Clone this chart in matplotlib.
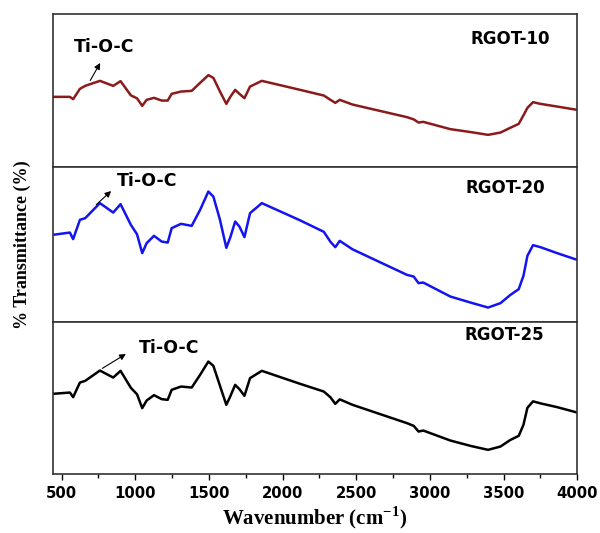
import matplotlib.pyplot as plt
from matplotlib.ticker import MultipleLocator
import numpy as np

plt.rcParams['mathtext.fontset'] = 'custom'
plt.rcParams['mathtext.rm'] = 'Liberation Serif'
plt.rcParams['mathtext.bf'] = 'Liberation Serif:bold'

# wavenumber grid (cm^-1) shared by the three spectra
wavenumber = [440, 556, 578, 624, 660, 760, 850, 900, 970, 1012, 1047, 1077, 1127,
              1179, 1220, 1247, 1310, 1383, 1440, 1496, 1530, 1575, 1618, 1645, 1678,
              1707, 1741, 1779, 1859, 2119, 2280, 2325, 2358, 2388, 2475, 2844, 2890,
              2923, 2955, 3139, 3280, 3395, 3479, 3545, 3603, 3635, 3662, 3700, 3750,
              3864, 4000]

# transmittance, arbitrary units (offset per panel)
rgot10 = [70, 70, 67.7, 78, 81, 86, 81, 85.7, 71.5, 68.5, 61, 67, 69, 66.3, 66.3, 73,
          75.3, 76, 84, 91.7, 89, 75.3, 63, 70, 77, 73, 68.7, 80.3, 86, 77, 71.3, 67,
          64, 67, 62.3, 49.7, 47.5, 44.3, 45, 37.7, 34.7, 32, 34.3, 39, 43, 51.5, 59,
          64.7, 63, 60.3, 57]
rgot20 = [87, 89.3, 82.7, 102, 103.7, 118.7, 109.3, 117.7, 97, 87.5, 68.7, 78.7, 86,
          80.3, 79.3, 93.7, 98, 96, 112, 130.3, 125.3, 102, 74, 84.5, 100.3, 95.3, 84.7,
          108.7, 118.7, 101.5, 90, 80, 74.7, 81, 72.5, 47, 45.3, 38.7, 39.3, 25.3, 19.1,
          14.3, 18.7, 26.8, 32.7, 46, 66, 76.7, 74.7, 68.7, 62]
rgot25 = [80, 81.3, 76.7, 91.3, 93, 103.3, 96.3, 103, 86, 79.5, 65.7, 73.3, 78.7, 74.7,
          74, 84, 87.3, 86.3, 99, 112.3, 108, 88, 69, 77.5, 89, 84.7, 78, 95.7, 103, 90,
          82.3, 76.5, 70, 74.5, 69, 50.7, 48, 42.3, 43.3, 33.3, 27.8, 24, 27.3, 33.8, 38,
          49, 66, 72.5, 70.5, 66.7, 61.3]

samples = ['RGOT-10', 'RGOT-20', 'RGOT-25']
colors = ['#8b1a1a', '#1414f0', 'black']
series = [rgot10, rgot20, rgot25]
ylims = [153, 155, 152]

# label / annotation placement per panel
label_pos = [(3547, 128), (3509, 134), (3502, 138.5)]
text_pos = [(787, 119.5), (1082, 141), (1229, 126.3)]
arrow_tail = [(685, 84), (721, 115.3), (760, 104)]
arrow_head = [(771, 106.3), (850, 132.7), (952, 121.3)]

fig = plt.figure(figsize=(6, 5.33), dpi=100)
gs = fig.add_gridspec(3, 1, height_ratios=ylims, hspace=0,
                      left=0.088, right=0.962, top=0.974, bottom=0.111)
axes = [fig.add_subplot(gs[i]) for i in range(3)]

for i, ax in enumerate(axes):
    ax.plot(wavenumber, series[i], color=colors[i], lw=1.8)
    ax.set_xlim(440, 4000)
    ax.set_ylim(0, ylims[i])
    ax.set_yticks([])
    for s in ax.spines.values():
        s.set_linewidth(1.2)
        s.set_color('#333333')
    ax.text(*label_pos[i], samples[i], ha='center', va='center',
            fontsize=12, fontweight='bold', family='DejaVu Sans')
    ax.text(*text_pos[i], 'Ti-O-C', ha='center', va='center',
            fontsize=12.5, fontweight='bold', family='DejaVu Sans')
    ax.annotate('', xy=arrow_head[i], xytext=arrow_tail[i],
                arrowprops=dict(arrowstyle='-|>', lw=0.8, color='black',
                                mutation_scale=9))
    ax.xaxis.set_major_locator(MultipleLocator(500))
    ax.xaxis.set_minor_locator(MultipleLocator(250))
    if i < 2:
        ax.tick_params(axis='x', which='both', bottom=False, labelbottom=False)

ax = axes[2]
ax.tick_params(axis='x', which='major', direction='out', length=4.5, width=1, pad=4)
ax.tick_params(axis='x', which='minor', direction='out', length=3, width=1)
for lab in ax.get_xticklabels():
    lab.set_fontweight('bold')
    lab.set_fontsize(10.7)
ax.set_xlabel(r'Wavenumber (cm$^{\mathbf{-1}}$)', family='Liberation Serif',
              fontweight='bold', fontsize=15, labelpad=3)

fig.text(0.037, 0.54, '% Transmittance (%)', rotation=90, ha='center', va='center',
         family='Liberation Serif', fontweight='bold', fontsize=13)

fig.savefig('out.png', dpi=100)
